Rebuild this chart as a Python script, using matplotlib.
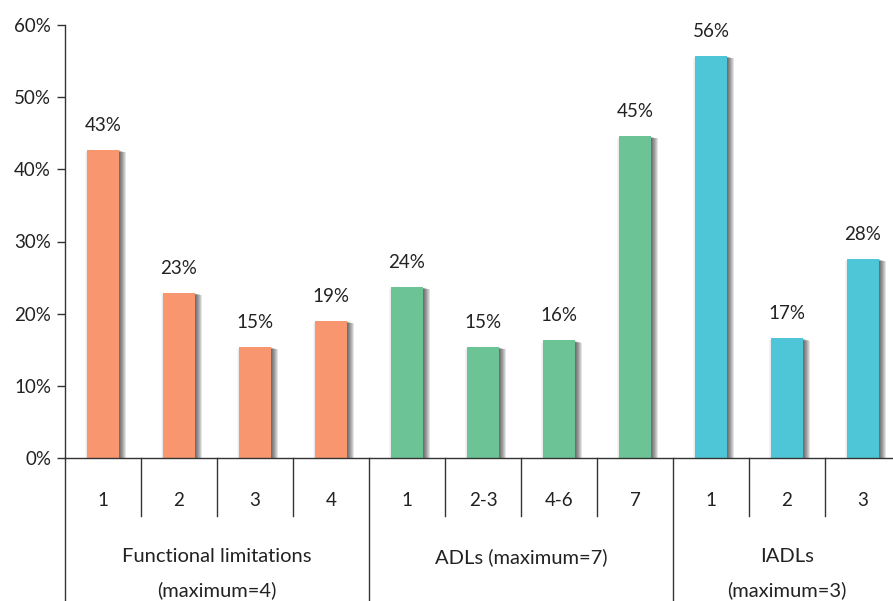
import numpy as np
import matplotlib
matplotlib.use("Agg")
import matplotlib.pyplot as plt
import matplotlib.transforms as mtransforms

plt.rcParams['font.family'] = ['Lato', 'DejaVu Sans']

# data
sub_labels = ["1", "2", "3", "4", "1", "2-3", "4-6", "7", "1", "2", "3"]
values = [42.7, 22.9, 15.4, 19.0, 23.7, 15.4, 16.3, 44.6, 55.7, 16.6, 27.6]
groups = ["Functional limitations\n(maximum=4)", "ADLs (maximum=7)", "IADLs\n(maximum=3)"]
group_sizes = [4, 4, 3]
group_colors = ["#F7966F", "#6CC496", "#4FC6D8"]

colors = []
for c, n in zip(group_colors, group_sizes):
    colors += [c] * n

W, H = 893, 601
fig = plt.figure(figsize=(W / 100, H / 100), dpi=100)
ax = fig.add_axes([65 / W, (H - 458) / H, (901 - 65) / W, (458 - 25) / H])

x = np.arange(len(values))
bw = 0.41
fs = 13.5
tc = "#222222"

# soft shadow around each bar, mostly on the right
for k in range(1, 9):
    ax.bar(x + k * 0.012, np.array(values) - k * 0.04, bw, color="black",
           alpha=0.11, linewidth=0, zorder=1)
for k in range(1, 4):
    ax.bar(x - k * 0.012, np.array(values) - k * 0.1, bw, color="black",
           alpha=0.04, linewidth=0, zorder=1)
ax.bar(x, values, bw, color=colors, linewidth=0, zorder=2)

for xi, v in zip(x, values):
    ax.text(xi, v + 2.2, f"{v:.0f}%", ha="center", va="bottom", fontsize=fs, color=tc)

ax.set_xlim(-0.5, len(values) - 0.5)
ax.set_ylim(0, 60)
ax.set_yticks(np.arange(0, 61, 10))
ax.set_yticklabels([f"{t}%" for t in range(0, 61, 10)], fontsize=fs, color=tc)
ax.tick_params(axis="y", length=6, width=1, pad=4, color="#333333")
ax.set_xticks([])
for s in ["top", "right"]:
    ax.spines[s].set_visible(False)
for s in ["left", "bottom"]:
    ax.spines[s].set_color("#333333")
    ax.spines[s].set_linewidth(1)

# table-like x axis
trans = mtransforms.blended_transform_factory(ax.transData, ax.transAxes)
y_sub = (458 - 516) / 433
y_bot = (458 - 601) / 433
lc = "#333333"
ax.plot([-0.5, -0.5], [0, y_bot], color=lc, lw=1, transform=trans, clip_on=False)
starts = np.cumsum([0] + group_sizes)
for i in range(1, len(values) + 1):
    b = i - 0.5
    if i in starts:
        ax.plot([b, b], [0, y_bot], color=lc, lw=1, transform=trans, clip_on=False)
    else:
        ax.plot([b, b], [0, y_sub], color=lc, lw=1, transform=trans, clip_on=False)

for xi, lab in zip(x, sub_labels):
    ax.text(xi, (458 - 500) / 433, lab, transform=trans, ha="center", va="center",
            fontsize=fs, color=tc)

for g, s, n in zip(groups, starts[:-1], group_sizes):
    cx = s + (n - 1) / 2
    lines = g.split("\n")
    for j, line in enumerate(lines):
        ax.text(cx, (458 - (557 + 33 * j)) / 433, line, transform=trans,
                ha="center", va="center", fontsize=14.5, color=tc)

fig.savefig("out.png", dpi=100)
